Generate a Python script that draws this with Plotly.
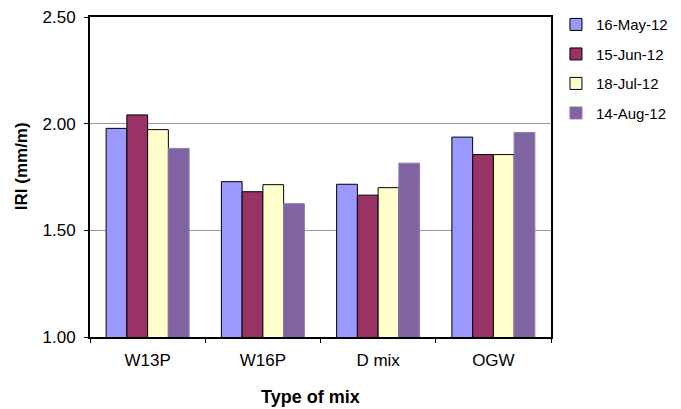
import plotly.graph_objects as go

# IRI measurements by mix type and survey date
mixes = ["W13P", "W16P", "D mix", "OGW"]
dates = ["16-May-12", "15-Jun-12", "18-Jul-12", "14-Aug-12"]
iri_may = [1.978, 1.728, 1.716, 1.937]
iri_jun = [2.041, 1.681, 1.665, 1.855]
iri_jul = [1.972, 1.714, 1.700, 1.855]
iri_aug = [1.884, 1.625, 1.815, 1.959]
y_ticks = [1.00, 1.50, 2.00, 2.50]

series = [iri_may, iri_jun, iri_jul, iri_aug]
fills = ["#9999FF", "#993366", "#FFFFCC", "#8064A2"]
outlines = ["#000000", "#000000", "#000000", "#8F78B0"]

fig = go.Figure()
for name, vals, fill, edge in zip(dates, series, fills, outlines):
    fig.add_trace(go.Bar(
        x=mixes, y=vals, name=name, legendgroup=name,
        marker=dict(color=fill, line=dict(color=edge, width=1)),
    ))

font = "Liberation Sans, Arial, sans-serif"
fig.update_layout(
    width=681, height=409,
    margin=dict(l=90, r=130, t=17, b=72, autoexpand=False),
    paper_bgcolor="white", plot_bgcolor="white",
    barmode="group", bargap=0.28, bargroupgap=0,
    font=dict(family=font, size=17, color="black"),
    legend=dict(
        xref="container", yref="container", x=0.8164, y=0.98,
        xanchor="left", yanchor="top",
        font=dict(size=15), tracegroupgap=7,
        itemwidth=30, bgcolor="rgba(0,0,0,0)",
    ),
    xaxis=dict(
        showline=True, linecolor="black", linewidth=2, mirror=True,
        ticks="outside", tickson="boundaries", ticklen=4, tickwidth=1,
        tickcolor="black", showgrid=False, ticklabelstandoff=7,
    ),
    yaxis=dict(
        range=[1.0, 2.5], tickvals=y_ticks, tickformat=".2f",
        showline=True, linecolor="black", linewidth=2, mirror=True,
        ticks="outside", ticklen=4, tickwidth=1, tickcolor="black",
        showgrid=True, gridcolor="#999999", gridwidth=1,
        zeroline=False, ticklabelstandoff=5,
    ),
    annotations=[
        dict(text="<b>Type of mix</b>", xref="paper", yref="paper",
             x=0.478, y=-0.188, xanchor="center", yanchor="middle",
             showarrow=False, font=dict(size=18)),
        dict(text="<b>IRI (mm/m)</b>", xref="paper", yref="paper",
             x=-0.148, y=0.533, xanchor="center", yanchor="middle",
             textangle=-90, showarrow=False, font=dict(size=17)),
    ],
)

fig.write_html("out.html")
